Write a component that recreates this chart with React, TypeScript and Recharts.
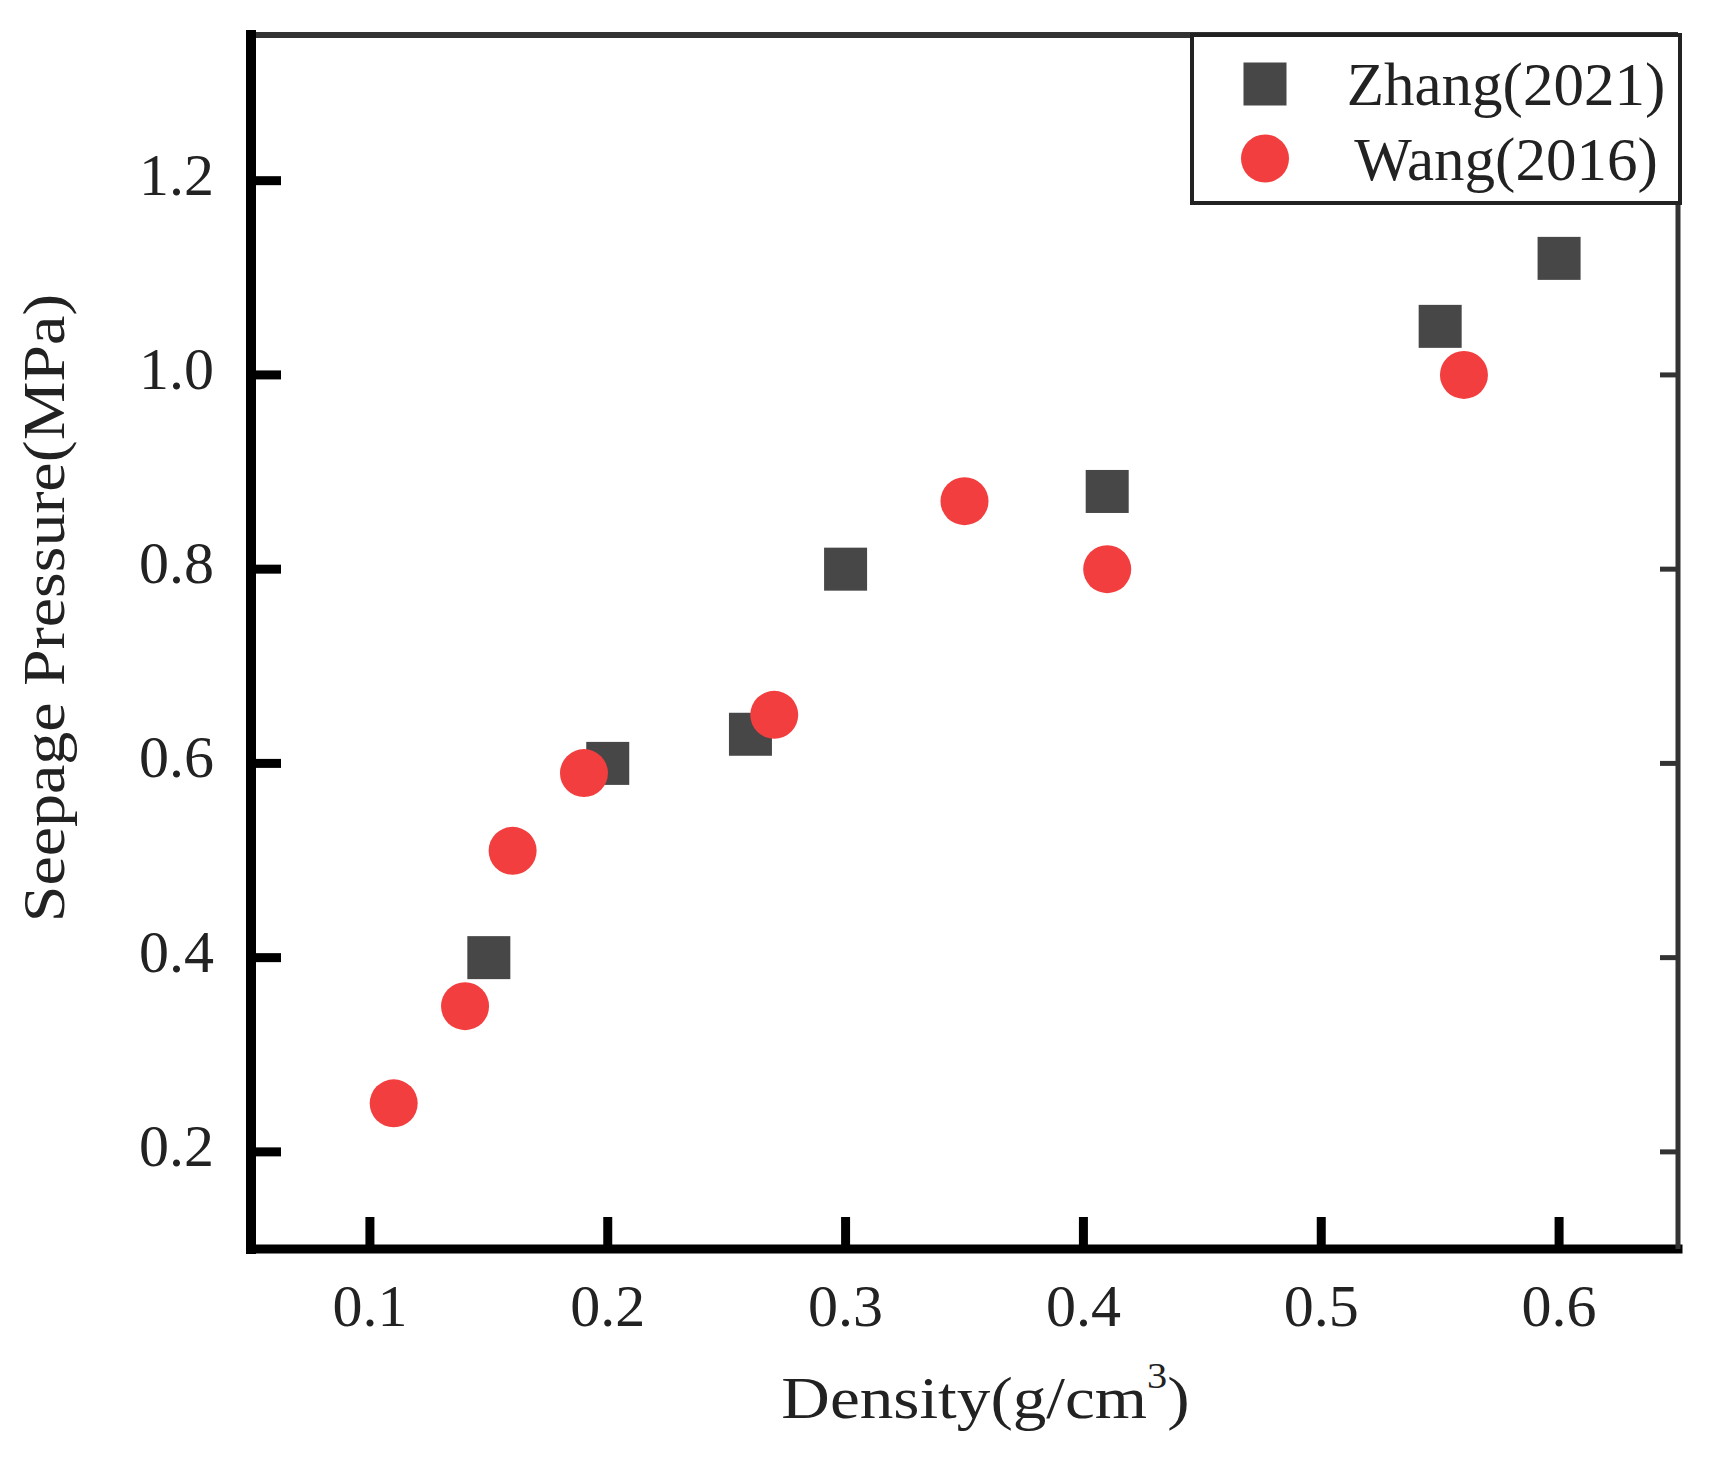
import React from 'react';
import { ScatterChart, Scatter, XAxis, YAxis, Legend } from 'recharts';

// tick values for both axes
const densityTicks = [0.1, 0.2, 0.3, 0.4, 0.5, 0.6];
const pressureTicks = [0.2, 0.4, 0.6, 0.8, 1.0, 1.2];

// Zhang (2021) measurements
const zhangDensity = [0.15, 0.2, 0.26, 0.3, 0.41, 0.55, 0.6];
const zhangPressure = [0.4, 0.6, 0.63, 0.8, 0.88, 1.05, 1.12];

// Wang (2016) measurements
const wangDensity = [0.11, 0.14, 0.16, 0.19, 0.27, 0.35, 0.41, 0.56];
const wangPressure = [0.25, 0.35, 0.51, 0.59, 0.65, 0.87, 0.8, 1.0];

// legend order, top to bottom
const seriesNames = ['Zhang(2021)', 'Wang(2016)'];

const zhangData = zhangDensity.map((d, i) => ({ density: d, pressure: zhangPressure[i] }));
const wangData = wangDensity.map((d, i) => ({ density: d, pressure: wangPressure[i] }));

const SERIF = '"Liberation Serif", "Times New Roman", serif';
const SQUARE_FILL = '#474747';
const CIRCLE_FILL = '#f23e3e';

function BottomTick({ x, y, payload }: any) {
  return (
    <g>
      <line x1={x} x2={x} y1={y} y2={y - 32} stroke="#000" strokeWidth={9} />
      <text x={x} y={y + 77} textAnchor="middle" fontSize={60} fontFamily={SERIF} fill="#222">
        {Number(payload.value).toFixed(1)}
      </text>
    </g>
  );
}

function LeftTick({ x, y, payload }: any) {
  return (
    <g>
      <line x1={x} x2={x + 30} y1={y} y2={y} stroke="#000" strokeWidth={9} />
      <text x={x - 37} y={y + 14} textAnchor="end" fontSize={60} fontFamily={SERIF} fill="#222">
        {Number(payload.value).toFixed(1)}
      </text>
    </g>
  );
}

function TopTick({ x, y }: any) {
  return <line x1={x} x2={x} y1={y} y2={y + 15} stroke="#333" strokeWidth={5} />;
}

function RightTick({ x, y }: any) {
  return <line x1={x} x2={x - 18} y1={y} y2={y} stroke="#333" strokeWidth={5} />;
}

function DensityTitle({ viewBox }: any) {
  const vb = viewBox || { x: 251, y: 1249, width: 1427, height: 80 };
  const cx = vb.x + vb.width / 2 + 21;
  const base = vb.y + 169;
  return (
    <g transform={`translate(${cx},${base}) scale(1.12,1)`}>
      <text x={0} y={0} textAnchor="middle" fontSize={60} fontFamily={SERIF} fill="#222">
        Density(g/cm
        <tspan fontSize={36} dy={-30}>3</tspan>
        <tspan dy={30}>)</tspan>
      </text>
    </g>
  );
}

function PressureTitle({ viewBox }: any) {
  const vb = viewBox || { x: 151, y: 35, width: 100, height: 1214 };
  const cy = vb.y + vb.height / 2 - 34;
  const bx = vb.x - 87;
  return (
    <g transform={`translate(${bx},${cy}) rotate(-90) scale(1.1,1)`}>
      <text x={0} y={0} textAnchor="middle" fontSize={60} fontFamily={SERIF} fill="#222">
        Seepage Pressure(MPa)
      </text>
    </g>
  );
}

function SquareDot({ cx, cy }: any) {
  return <rect x={cx - 21.5} y={cy - 21.5} width={43} height={43} fill={SQUARE_FILL} />;
}

function RoundDot({ cx, cy }: any) {
  return <circle cx={cx} cy={cy} r={24} fill={CIRCLE_FILL} />;
}

function SeriesLegend({ payload }: any) {
  const rows = [...(payload || [])].sort(
    (a: any, b: any) => seriesNames.indexOf(a.value) - seriesNames.indexOf(b.value)
  );
  return (
    <svg width={492} height={172} style={{ display: 'block' }}>
      <rect x={2} y={2} width={488} height={168} fill="#fff" stroke="#222" strokeWidth={4} />
      {rows.map((entry: any, i: number) => {
        const cy = 51 + i * 74.5;
        const round = entry.type === 'circle';
        return (
          <g key={`legend-${i}`}>
            {round ? (
              <circle cx={75} cy={cy} r={24} fill={CIRCLE_FILL} />
            ) : (
              <rect x={75 - 21.5} y={cy - 21.5} width={43} height={43} fill={SQUARE_FILL} />
            )}
            <text x={316} y={cy + 21} textAnchor="middle" fontSize={61} fontFamily={SERIF} fill="#222">
              {entry.value}
            </text>
          </g>
        );
      })}
    </svg>
  );
}

export default function App() {
  return (
    <div style={{ position: 'absolute', left: 0, top: 0, background: '#fff' }}>
      <ScatterChart
        width={1720}
        height={1457}
        margin={{ top: 15, right: 22, bottom: 128, left: 151 }}
        style={{ fontFamily: SERIF }}
      >
        <XAxis
          xAxisId={0}
          type="number"
          dataKey="density"
          domain={[0.05, 0.65]}
          ticks={densityTicks}
          height={80}
          tickSize={0}
          tickMargin={0}
          tickLine={false}
          tick={<BottomTick />}
          axisLine={{ stroke: '#000', strokeWidth: 9, strokeLinecap: 'square' }}
          label={<DensityTitle />}
          allowDataOverflow
        />
        <XAxis
          xAxisId="top"
          orientation="top"
          type="number"
          domain={[0.05, 0.65]}
          ticks={densityTicks}
          height={20}
          tickSize={0}
          tickMargin={0}
          tickLine={false}
          tick={<TopTick />}
          axisLine={{ stroke: '#333', strokeWidth: 6 }}
          allowDataOverflow
        />
        <YAxis
          yAxisId={0}
          type="number"
          dataKey="pressure"
          domain={[0.1, 1.35]}
          ticks={pressureTicks}
          width={100}
          tickSize={0}
          tickMargin={0}
          tickLine={false}
          tick={<LeftTick />}
          axisLine={{ stroke: '#000', strokeWidth: 10, strokeLinecap: 'square' }}
          label={<PressureTitle />}
          allowDataOverflow
        />
        <YAxis
          yAxisId="right"
          orientation="right"
          type="number"
          domain={[0.1, 1.35]}
          ticks={pressureTicks}
          width={20}
          tickSize={0}
          tickMargin={0}
          tickLine={false}
          tick={<RightTick />}
          axisLine={{ stroke: '#333', strokeWidth: 5 }}
          allowDataOverflow
        />
        <Legend
          layout="vertical"
          align="center"
          verticalAlign="middle"
          content={<SeriesLegend />}
          wrapperStyle={{ left: 1190, top: 33, width: 492, height: 172, margin: 0 }}
        />
        <Scatter
          name="Zhang(2021)"
          data={zhangData}
          xAxisId={0}
          yAxisId={0}
          fill={SQUARE_FILL}
          legendType="square"
          shape={<SquareDot />}
          isAnimationActive={false}
        />
        <Scatter
          name="Wang(2016)"
          data={wangData}
          xAxisId={0}
          yAxisId={0}
          fill={CIRCLE_FILL}
          legendType="circle"
          shape={<RoundDot />}
          isAnimationActive={false}
        />
      </ScatterChart>
    </div>
  );
}
